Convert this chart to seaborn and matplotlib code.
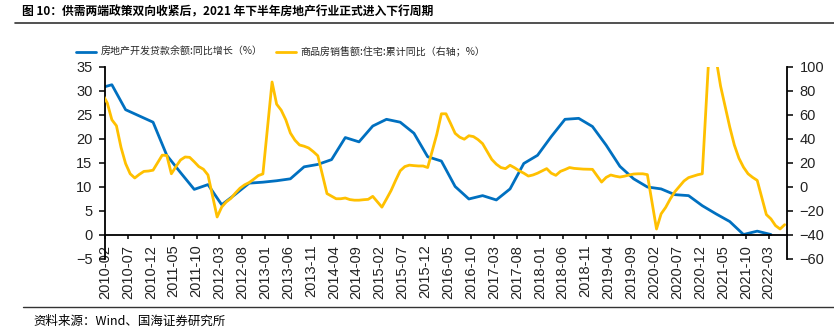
import matplotlib
matplotlib.use("Agg")
import matplotlib.pyplot as plt
import seaborn as sns
import pandas as pd
from matplotlib.lines import Line2D

# ---------------- data ----------------
title = "图 10：供需两端政策双向收紧后，2021 年下半年房地产行业正式进入下行周期"
source = "资料来源：Wind、国海证券研究所"
loan_label = "房地产开发贷款余额:同比增长（%）"
sales_label = "商品房销售额:住宅:累计同比（右轴；%）"

# quarterly: 2009-12 ... 2022-03
loan_start = "2009-12"
loan_yoy = [30.5,
            31.3, 26.1, 24.8, 23.5,
            16.6, 13.0, 9.5, 10.5,
            6.3, 8.5, 10.8, 11.0,
            11.3, 11.7, 14.2, 14.7,
            15.7, 20.3, 19.4, 22.7,
            24.1, 23.5, 21.2, 16.3,
            15.4, 10.1, 7.5, 8.2,
            7.3, 9.6, 14.9, 16.6,
            20.5, 24.1, 24.3, 22.6,
            18.7, 14.3, 11.7, 10.0,
            9.6, 8.4, 8.2, 6.1,
            4.4, 2.8, 0.1, 0.8,
            0.1]

# monthly cumulative (Feb..Dec each year; January not published)
sales_2009_dec = 84
sales_2010 = [70, 56, 51, 33, 19.5, 11, 7.5, 10.5, 13, 13.3, 14]
sales_2011 = [26.5, 26.3, 11, 17, 22.5, 25, 24.7, 21, 17, 14.8, 10]
sales_2012 = [-25, -16.7, -12.4, -9.5, -5, -1, 1.8, 3.7, 6.5, 9.5, 10.9]
sales_2013 = [87.5, 69, 64, 56, 45, 39, 35, 34, 32.5, 29.5, 26]
sales_2014 = [-5.5, -7.7, -9.8, -9.8, -9.2, -10.5, -11, -11, -10.6, -10.3, -7.8]
sales_2015 = [-16.8, -10, -3, 5.5, 13.5, 17, 18.2, 17.8, 17.5, 17.5, 16.2]
sales_2016 = [44, 61, 61, 53, 44.7, 41.5, 39.8, 42.7, 42, 39.5, 36.1]
sales_2017 = [23, 19, 16.2, 15.3, 18.1, 16, 13.5, 11.5, 9.1, 10, 11.5]
sales_2018 = [15.3, 11.5, 9.7, 13, 14.5, 16.2, 15.5, 15.2, 14.9, 14.8, 14.7]
sales_2019 = [4.1, 8, 10, 9, 8.3, 9, 10, 10.8, 11, 11, 10.3]
sales_2020 = [-35, -22.4, -17, -10, -4, 0.5, 5, 7.8, 9, 10.2, 11]
sales_2021 = [148, 107, 84, 67, 50, 35, 24, 16.5, 11, 8, 5.5]
sales_2022 = [-23, -26.6, -32.2, -35, -31.4]

# ---------------- build frames ----------------
def month_pos(year, month):
    # category position relative to 2010-02, centred in its slot
    return (year - 2010) * 12 + (month - 2) + 0.5

loan_periods = pd.period_range(loan_start, periods=len(loan_yoy) * 3, freq="M")[::3]
loan_df = pd.DataFrame({
    "x": [month_pos(p.year, p.month) for p in loan_periods],
    "v": loan_yoy,
})

sales_years = {2010: sales_2010, 2011: sales_2011, 2012: sales_2012, 2013: sales_2013,
               2014: sales_2014, 2015: sales_2015, 2016: sales_2016, 2017: sales_2017,
               2018: sales_2018, 2019: sales_2019, 2020: sales_2020, 2021: sales_2021,
               2022: sales_2022}
sx, sv = [month_pos(2009, 12)], [sales_2009_dec]
for yr, vals in sales_years.items():
    for i, v in enumerate(vals):
        sx.append(month_pos(yr, i + 2))
        sv.append(v)
sales_df = pd.DataFrame({"x": sx, "v": sv})

tick_idx = list(range(0, 146, 5))
tick_labels = [f"{2010 + (k + 1) // 12}-{(k + 1) % 12 + 1:02d}" for k in tick_idx]

# ---------------- style ----------------
sns.set_style("ticks")
plt.rcParams["font.family"] = ["Liberation Sans", "Noto Sans CJK SC", "DejaVu Sans"]
plt.rcParams["axes.unicode_minus"] = True
cjk = ["Noto Sans CJK SC", "DejaVu Sans"]

BLUE = "#0070C0"
YELLOW = "#FFC000"

fig = plt.figure(figsize=(8.34, 3.30), dpi=100)
ax = fig.add_axes([0.1259, 0.2152, 0.9436 - 0.1259, 0.797 - 0.2152])
ax2 = ax.twinx()

sns.lineplot(data=loan_df, x="x", y="v", ax=ax, color=BLUE, linewidth=2.0)
sns.lineplot(data=sales_df, x="x", y="v", ax=ax2, color=YELLOW, linewidth=2.0)

ax.set_xlim(0, 149)
ax.set_ylim(-5, 35)
ax2.set_ylim(-60, 100)
ax.set_yticks(range(-5, 36, 5))
ax2.set_yticks(range(-60, 101, 20))
ax.set_xticks(tick_idx)
ax.set_xticklabels(tick_labels)

for a in (ax, ax2):
    a.set_xlabel("")
    a.set_ylabel("")
    a.spines["top"].set_visible(False)
    a.patch.set_visible(False)

ax.spines["right"].set_visible(False)
ax.spines["bottom"].set_position(("data", 0))
ax2.spines["left"].set_visible(False)
ax2.spines["bottom"].set_visible(False)
for s in ("left", "bottom"):
    ax.spines[s].set_color("black")
    ax.spines[s].set_linewidth(1.3)
ax2.spines["right"].set_color("black")
ax2.spines["right"].set_linewidth(1.3)

ax.tick_params(axis="y", direction="out", length=4, width=1.1, pad=5,
               labelsize=10.5, colors="black", labelcolor="#222222")
ax.tick_params(axis="x", direction="out", length=3, width=1.1, pad=4,
               labelsize=10.5, colors="black", labelcolor="#222222",
               labelrotation=90)
ax2.tick_params(axis="y", direction="out", length=4, width=1.1, pad=5,
                labelsize=10.5, colors="black", labelcolor="#222222")
ax2.tick_params(axis="x", length=0, labelbottom=False)
for lab in ax.get_xticklabels():
    lab.set_rotation(90)
    lab.set_ha("center")
    lab.set_va("top")

# legend
handles = [Line2D([], [], color=BLUE, lw=2.0), Line2D([], [], color=YELLOW, lw=2.0)]
fig.legend(handles, [loan_label, sales_label], loc="center left",
           bbox_to_anchor=(0.080, 0.843), ncol=2, frameon=False,
           prop={"family": cjk, "size": 7.2}, handlelength=2.0,
           handletextpad=0.5, columnspacing=1.3)

# title, rules, source
fig.text(0.026, 0.965, title, fontsize=8.5, fontweight="bold", family=cjk,
         ha="left", va="center", color="black")
fig.add_artist(Line2D([0.018, 1.0], [0.929, 0.929], transform=fig.transFigure,
                      color="#333333", lw=1.2))
fig.add_artist(Line2D([0.028, 1.0], [0.0706, 0.0706], transform=fig.transFigure,
                      color="#333333", lw=1.0))
fig.text(0.04, 0.027, source, fontsize=9, family=cjk, ha="left", va="center",
         color="black")

fig.savefig("out.png", dpi=100)
